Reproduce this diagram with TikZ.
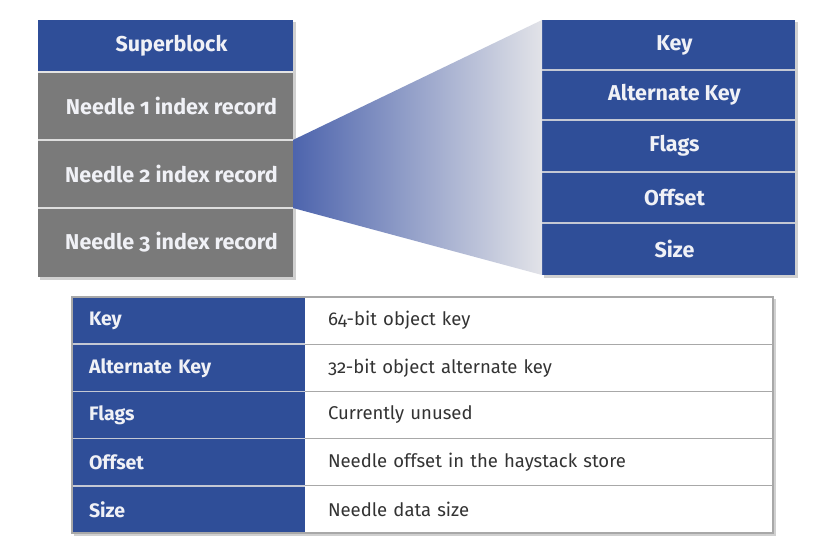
\documentclass[tikz,border=0pt]{standalone}
\usepackage{fontspec}
\setmainfont{Fira Sans}[Numbers=OldStyle]
\definecolor{hblue}{HTML}{2F4E98}
\definecolor{hgrey}{HTML}{7A7A7A}
\definecolor{hsep}{HTML}{C4C8D4}
\definecolor{tborder}{HTML}{A8A8A8}
\definecolor{ttext}{HTML}{333333}
\definecolor{fanL}{HTML}{4D64AD}
\definecolor{fanR}{HTML}{E2E3E8}
\definecolor{shad}{HTML}{D0D0D0}
\definecolor{ltext}{HTML}{F0F1F6}
\tikzset{
  base/.style={rectangle, inner sep=0pt, anchor=north west, outer sep=0pt},
  stackblue/.style={base, fill=hblue, text=ltext, font=\bfseries\fontsize{21.5}{24}\selectfont, minimum width=#1, execute at begin node={\hspace*{12pt}}},
  stackgrey/.style={base, fill=hgrey, text=ltext, font=\bfseries\fontsize{21.5}{24}\selectfont, minimum width=255pt, execute at begin node={\hspace*{12pt}}},
  tkey/.style={base, fill=hblue, text=ltext, font=\bfseries\fontsize{19.5}{22}\selectfont, minimum width=233pt, minimum height=47.2pt, text width=199pt, inner xsep=17pt, align=left},
  tval/.style={base, fill=white, text=ttext, font=\fontsize{18.5}{22}\selectfont, minimum width=468pt, minimum height=47.2pt, text width=422pt, inner xsep=23pt, align=left},
  sepline/.style={draw=hsep, line width=2pt},
  tline/.style={draw=tborder, line width=1.2pt},
}
\begin{document}
\begin{tikzpicture}[x=1pt, y=-1pt]
\useasboundingbox (0,0) rectangle (817,545);
\fill[white] (0,0) rectangle (817,545);
% shadows
\fill[shad] (40,22) rectangle (296,280);
\fill[shad] (544,22) rectangle (798,278);
\fill[shad] (74,299) rectangle (776,536);
% left stack
\node[stackblue=255pt, minimum height=52pt] (sb) at (38,20) {Superblock};
\node[stackgrey, minimum height=68pt] (n1) at (38,72) {Needle 1 index record};
\node[stackgrey, minimum height=68pt] (n2) at (38,140) {Needle 2 index record};
\node[stackgrey, minimum height=69pt] (n3) at (38,208) {Needle 3 index record};
\draw[sepline, draw=white!80!hgrey] (n1.north west) -- (n1.north east);
\draw[sepline, draw=white!75!hgrey] (n2.north west) -- (n2.north east);
\draw[sepline, draw=white!75!hgrey] (n3.north west) -- (n3.north east);
% right stack
\node[stackblue=253pt, minimum height=50pt] (rk) at (542,20) {Key};
\node[stackblue=253pt, minimum height=50pt] (ra) at (542,70) {Alternate Key};
\node[stackblue=253pt, minimum height=52pt] (rf) at (542,120) {Flags};
\node[stackblue=253pt, minimum height=51pt] (ro) at (542,172) {Offset};
\node[stackblue=253pt, minimum height=52pt] (rs) at (542,223) {Size};
\foreach \n in {ra,rf,ro,rs} \draw[sepline] (\n.north west) -- (\n.north east);
% fan
\shade[left color=fanL, right color=fanR] (n2.north east) -- (rk.north west) -- (rs.south west) -- (n2.south east) -- cycle;
% table
\node[tkey] (k1) at (72,297) {Key};
\node[tkey] (k2) at (72,344.2) {Alternate Key};
\node[tkey] (k3) at (72,391.4) {Flags};
\node[tkey] (k4) at (72,438.6) {Offset};
\node[tkey] (k5) at (72,485.8) {Size};
\node[tval] (v1) at (305,297) {64-bit object key};
\node[tval] (v2) at (305,344.2) {32-bit object alternate key};
\node[tval] (v3) at (305,391.4) {Currently unused};
\node[tval] (v4) at (305,438.6) {Needle offset in the haystack store};
\node[tval] (v5) at (305,485.8) {Needle data size};
\foreach \n in {k2,k3,k4,k5} \draw[sepline, line width=1.5pt] (\n.north west) -- (\n.north east);
\foreach \n in {v2,v3,v4,v5} \draw[tline] (\n.north west) -- (\n.north east);
\draw[tline] (k1.north west) rectangle (v5.south east);
\end{tikzpicture}
\end{document}
